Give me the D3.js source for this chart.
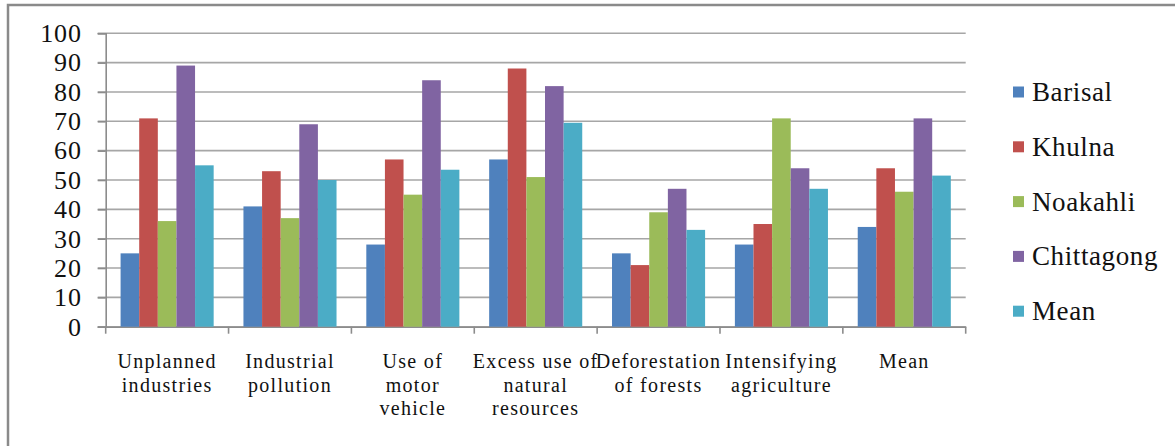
<!DOCTYPE html>
<html>
<head>
<meta charset="utf-8">
<script src="https://cdn.jsdelivr.net/npm/d3@7"></script>
<style>
  html, body { margin: 0; padding: 0; background: #fff; }
  svg { display: block; }
</style>
</head>
<body>
<svg id="chart" width="1175" height="446"></svg>
<script>
// Categories (each label split into its printed lines)
const categories = [
  ["Unplanned", "industries"],
  ["Industrial", "pollution"],
  ["Use of", "motor", "vehicle"],
  ["Excess use of", "natural", "resources"],
  ["Deforestation", "of forests"],
  ["Intensifying", "agriculture"],
  ["Mean"]
];
const seriesNames = ["Barisal", "Khulna", "Noakahli", "Chittagong", "Mean"];
const barisal    = [25, 41, 28, 57, 25, 28, 34];
const khulna     = [71, 53, 57, 88, 21, 35, 54];
const noakahli   = [36, 37, 45, 51, 39, 71, 46];
const chittagong = [89, 69, 84, 82, 47, 54, 71];
const meanVals   = [55, 50, 53.5, 69.5, 33, 47, 51.5];
const yTicks = [0, 10, 20, 30, 40, 50, 60, 70, 80, 90, 100];
const colors = ["#4F81BD", "#C0504D", "#9BBB59", "#8064A2", "#4BACC6"];

const seriesValues = [barisal, khulna, noakahli, chittagong, meanVals];
const FONT = '"Liberation Serif"';

const svg = d3.select("#chart");

// outer frame (only top and left edges fall inside the view)
svg.append("rect")
  .attr("x", 8).attr("y", 5)
  .attr("width", 1300).attr("height", 600)
  .attr("fill", "none").attr("stroke", "#8a8a8a").attr("stroke-width", 2.5);

const plot = { left: 105.7, right: 965.7, top: 33.3, bottom: 326.7 };

const x0 = d3.scaleBand()
  .domain(d3.range(categories.length))
  .range([plot.left, plot.right])
  .paddingInner(0).paddingOuter(0);

const x1 = d3.scaleBand()
  .domain(d3.range(seriesNames.length))
  .range([0, x0.bandwidth()])
  .paddingOuter(0.8).paddingInner(0);

const y = d3.scaleLinear().domain([0, 100]).range([plot.bottom, plot.top]);

// horizontal gridlines
svg.append("g")
  .selectAll("line")
  .data(yTicks)
  .join("line")
  .attr("x1", plot.left - 8).attr("x2", plot.right)
  .attr("y1", d => y(d)).attr("y2", d => y(d))
  .attr("stroke", "#a6a6a6").attr("stroke-width", 1.6);

// y axis
const yAxis = svg.append("g")
  .attr("transform", `translate(${plot.left},0)`)
  .call(d3.axisLeft(y).tickValues(yTicks).tickSize(8).tickPadding(16));
yAxis.attr("font-family", null);
yAxis.select(".domain").attr("stroke", "#8c8c8c").attr("stroke-width", 1.6);
yAxis.selectAll(".tick line").attr("stroke", "#8c8c8c").attr("stroke-width", 1.6);
yAxis.selectAll(".tick text")
  .style("font-family", FONT)
  .attr("font-size", 26)
  .attr("letter-spacing", 0.8)
  .attr("fill", "#111");

// x axis baseline with category separators
const xAxis = svg.append("g")
  .attr("transform", `translate(0,${plot.bottom})`)
  .call(d3.axisBottom(x0).tickSize(0).tickFormat(""));
xAxis.select(".domain").attr("stroke", "#8c8c8c").attr("stroke-width", 1.6);
xAxis.selectAll(".tick").remove();
svg.append("g")
  .selectAll("line")
  .data(d3.range(categories.length + 1))
  .join("line")
  .attr("x1", i => plot.left + i * x0.step())
  .attr("x2", i => plot.left + i * x0.step())
  .attr("y1", plot.bottom).attr("y2", plot.bottom + 7)
  .attr("stroke", "#8c8c8c").attr("stroke-width", 1.6);

// bars
const groups = svg.append("g")
  .selectAll("g")
  .data(categories.map((c, i) => i))
  .join("g")
  .attr("transform", i => `translate(${x0(i)},0)`);

groups.selectAll("rect")
  .data(i => seriesValues.map((vals, s) => ({ s, v: vals[i] })))
  .join("rect")
  .attr("x", d => x1(d.s))
  .attr("width", x1.bandwidth())
  .attr("y", d => y(d.v))
  .attr("height", d => y(0) - y(d.v))
  .attr("fill", d => colors[d.s]);

// category labels
const catLabels = svg.append("g")
  .selectAll("text")
  .data(categories)
  .join("text")
  .attr("x", (d, i) => x0(i) + x0.bandwidth() / 2)
  .attr("y", 368)
  .attr("text-anchor", "middle")
  .style("font-family", FONT)
  .attr("font-size", 20)
  .attr("letter-spacing", 1.3)
  .attr("fill", "#111");
catLabels.selectAll("tspan")
  .data(d => d)
  .join("tspan")
  .attr("x", function () { return d3.select(this.parentNode).attr("x"); })
  .attr("dy", (d, j) => j === 0 ? 0 : 23.5)
  .text(d => d);

// legend
const legend = svg.append("g")
  .selectAll("g")
  .data(seriesNames)
  .join("g")
  .attr("transform", (d, i) => `translate(1013,${92 + i * 54.8})`);
legend.append("rect")
  .attr("x", 0).attr("y", -5.5)
  .attr("width", 11).attr("height", 11)
  .attr("fill", (d, i) => colors[i]);
legend.append("text")
  .attr("x", 19).attr("y", 9)
  .style("font-family", FONT)
  .attr("font-size", 27)
  .attr("letter-spacing", 0.6)
  .attr("fill", "#111")
  .text(d => d);
</script>
</body>
</html>
